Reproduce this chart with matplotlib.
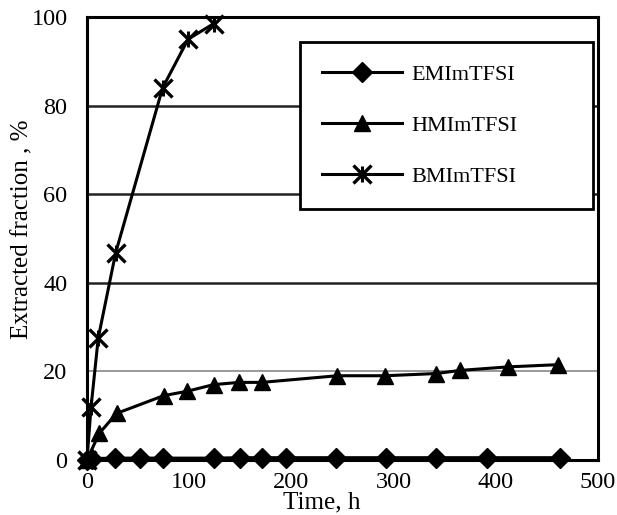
import matplotlib
matplotlib.use("Agg")
import matplotlib.pyplot as plt

plt.rcParams['font.family'] = ['Liberation Serif', 'DejaVu Serif']

# Data
emi_t = [0, 5, 27, 52, 74, 124, 150, 171, 195, 244, 293, 342, 391, 463]
emi_y = [0.0, 0.3, 0.4, 0.4, 0.4, 0.4, 0.5, 0.5, 0.5, 0.5, 0.5, 0.5, 0.5, 0.5]

hmi_t = [0, 12, 29, 75, 98, 124, 149, 171, 245, 292, 342, 365, 412, 461]
hmi_y = [0.0, 6.0, 10.5, 14.5, 15.5, 17.0, 17.5, 17.5, 19.0, 19.0, 19.5, 20.2, 21.0, 21.5]

bmi_t = [0, 4, 11, 28, 74, 99, 124]
bmi_y = [0.0, 12.0, 27.5, 46.7, 84.0, 95.0, 98.5]

labels = ['EMImTFSI', 'HMImTFSI', 'BMImTFSI']
x_ticks = [0, 100, 200, 300, 400, 500]
y_ticks = [0, 20, 40, 60, 80, 100]

fig = plt.figure(figsize=(6.17, 5.15), dpi=100)
ax = fig.add_axes([0.141, 0.107, 0.828, 0.860])

ax.set_xlim(0, 500)
ax.set_ylim(0, 100)
ax.set_xticks(x_ticks)
ax.set_yticks(y_ticks)
ax.tick_params(length=0, labelsize=17.5)
ax.tick_params(axis='y', pad=14)
ax.tick_params(axis='x', pad=9)

# horizontal grid lines
grid_colors = {20: '#9a9a9a', 40: '#222222', 60: '#222222', 80: '#222222'}
for yv, c in grid_colors.items():
    ax.axhline(yv, color=c, lw=1.8 if yv != 20 else 1.4, zorder=1)

for s in ax.spines.values():
    s.set_linewidth(2.2)
    s.set_color('black')

l1, = ax.plot(emi_t, emi_y, color='black', lw=2.2, marker='D', ms=10.5,
              zorder=3, clip_on=False)
l2, = ax.plot(hmi_t, hmi_y, color='black', lw=2.2, marker='^', ms=12,
              zorder=3, clip_on=False)
l3, = ax.plot(bmi_t, bmi_y, color='black', lw=2.2, marker='x', ms=13,
              mew=2.4, zorder=3, clip_on=False)
l3b, = ax.plot(bmi_t, bmi_y, color='black', lw=0, marker='|', ms=11,
               mew=2.2, zorder=3, clip_on=False)

leg = ax.legend([l1, l2, (l3, l3b)], labels, loc='upper left',
                bbox_to_anchor=(0.417, 0.576, 0.573, 0.368), mode='expand',
                fontsize=16, frameon=True, fancybox=False, borderpad=1.0,
                labelspacing=1.38, handlelength=3.6, handletextpad=0.4,
                borderaxespad=0)
leg.get_frame().set_edgecolor('black')
leg.get_frame().set_linewidth(2.0)
leg.get_frame().set_facecolor('white')
leg.get_frame().set_alpha(1)
leg.set_zorder(5)

ax.set_xlabel('Time, h', fontsize=18)
ax.set_ylabel('Extracted fraction , %', fontsize=18)
ax.xaxis.set_label_coords(0.46, -0.072)
ax.yaxis.set_label_coords(-0.105, 0.52)

fig.savefig('out.png', dpi=100, facecolor='white')
